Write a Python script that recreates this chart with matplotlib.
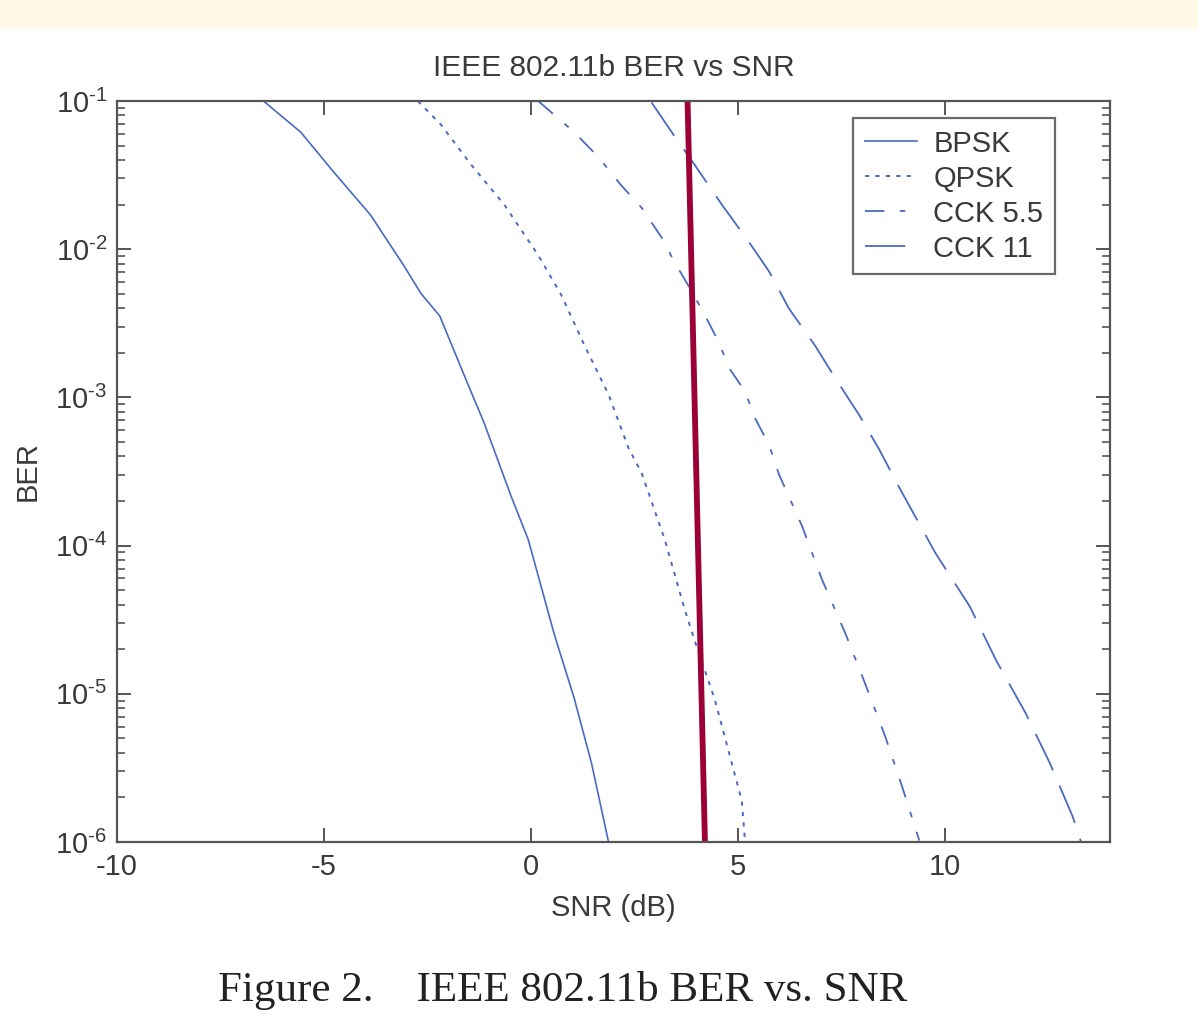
import matplotlib
matplotlib.use("Agg")
import matplotlib.pyplot as plt
from matplotlib.patches import Rectangle
from matplotlib.ticker import FuncFormatter
import numpy as np

plt.rcParams['font.family'] = ['Liberation Sans', 'DejaVu Sans']
plt.rcParams['mathtext.fontset'] = 'custom'
plt.rcParams['mathtext.rm'] = 'Liberation Sans'
plt.rcParams['mathtext.default'] = 'regular'
plt.rcParams['lines.scale_dashes'] = False

# ---- data (SNR in dB, log10 BER) ----
bpsk_snr = [-6.46, -5.56, -4.76, -3.87, -3.07, -2.65, -2.20, -1.61, -1.13, -0.47, -0.06, 0.57, 1.05, 1.47, 1.88]
bpsk_log = [-1.0, -1.21, -1.48, -1.77, -2.11, -2.30, -2.45, -2.85, -3.17, -3.67, -3.96, -4.60, -5.03, -5.47, -6.0]

qpsk_snr = [-2.73, -2.17, -1.44, -0.64, 0.18, 0.74, 1.30, 1.88, 2.36, 2.68, 3.24, 3.72, 3.96, 4.45, 4.86, 5.10, 5.18]
qpsk_log = [-1.0, -1.16, -1.43, -1.70, -2.04, -2.31, -2.65, -2.98, -3.34, -3.51, -3.96, -4.43, -4.64, -5.04, -5.47, -5.72, -6.0]

cck55_snr = [0.18, 1.05, 1.64, 2.19, 2.68, 3.16, 3.48, 3.84, 4.18, 4.55, 4.79, 5.18, 5.42, 5.76, 6.0,
             6.56, 7.04, 7.60, 8.08, 8.57, 8.98, 9.39]
cck55_log = [-1.0, -1.21, -1.38, -1.57, -1.72, -1.92, -2.09, -2.26, -2.43, -2.63, -2.80, -2.96, -3.14, -3.32, -3.52,
             -3.87, -4.23, -4.59, -4.93, -5.29, -5.63, -5.99]

cck11_snr = [2.92, 3.48, 3.96, 4.62, 5.27, 5.76, 6.24, 6.87, 7.36, 7.94, 8.42, 8.91, 9.78, 10.61, 11.24, 11.96, 12.55, 13.10, 13.30]
cck11_log = [-1.01, -1.24, -1.43, -1.70, -1.95, -2.15, -2.40, -2.65, -2.87, -3.12, -3.35, -3.61, -4.05, -4.41, -4.77, -5.13, -5.47, -5.83, -6.0]

marker_snr = [3.79, 4.21]
marker_ber = [1e-1, 1e-6]

labels = ['BPSK', 'QPSK', 'CCK 5.5', 'CCK 11']
x_ticks = [-10, -5, 0, 5, 10]

blue = '#4a69c2'
txt = '#3a3a3a'
fs = 21

fig = plt.figure(figsize=(11.98, 10.33), dpi=100)
fig.patch.set_facecolor('white')
fig.patches.append(Rectangle((0, 1 - 28 / 1033), 1, 28 / 1033, transform=fig.transFigure,
                             facecolor='#fff8e6', edgecolor='none', zorder=0))

ax = fig.add_axes([117 / 1198, 1 - 842 / 1033, (1110 - 117) / 1198, (842 - 101) / 1033])

ax.semilogy(bpsk_snr, 10 ** np.array(bpsk_log), color=blue, lw=1.2, label=labels[0])
ax.semilogy(qpsk_snr, 10 ** np.array(qpsk_log), color=blue, lw=1.4, dashes=(3, 4.5), label=labels[1])
ax.semilogy(cck55_snr, 10 ** np.array(cck55_log), color=blue, lw=1.3, dashes=(14, 11, 4, 11), label=labels[2])
ax.semilogy(cck11_snr, 10 ** np.array(cck11_log), color=blue, lw=1.3, dashes=(29, 12), label=labels[3])
ax.plot(marker_snr, marker_ber, color='#9b0036', lw=4.2, solid_capstyle='butt')

ax.set_xlim(-10, 14)
ax.set_ylim(1e-6, 1e-1)
ax.set_xticks(x_ticks)
ax.set_xticklabels([str(v) for v in x_ticks])
ax.yaxis.set_major_formatter(FuncFormatter(
    lambda v, p: r'$10^{\text{-}%d}$' % int(round(-np.log10(v)))))

for s in ax.spines.values():
    s.set_color('#555555')
    s.set_linewidth(1.6)

ax.tick_params(which='both', direction='in', top=True, right=True, colors='#555555',
               labelcolor=txt, labelsize=fs)
ax.tick_params(which='major', length=10, width=1.4)
ax.tick_params(which='minor', length=6, width=1.2)
ax.tick_params(axis='x', which='major', pad=8)
ax.tick_params(axis='y', which='major', pad=7)

ax.set_title('IEEE 802.11b BER vs SNR', fontsize=fs + 0.5, color=txt, pad=18)
ax.set_xlabel('SNR (dB)', fontsize=fs, color=txt, labelpad=9)
ax.set_ylabel('BER', fontsize=fs, color=txt, labelpad=10)

leg = ax.legend(loc='upper right', bbox_to_anchor=((1055 - 117) / 993, 1 - (118 - 101) / 741),
                borderaxespad=0, fontsize=fs, frameon=True, fancybox=False, handlelength=1.8,
                labelspacing=0.24, borderpad=0.4, handletextpad=0.55)
leg.get_frame().set_edgecolor('#444444')
leg.get_frame().set_linewidth(1.6)
for t in leg.get_texts():
    t.set_color(txt)

fig.text(563 / 1198, 1 - 990 / 1033, 'Figure 2.    IEEE 802.11b BER vs. SNR', ha='center', va='center',
         fontsize=31, family=['Liberation Serif', 'DejaVu Serif'], color='#222222')

fig.savefig('out.png', dpi=100, facecolor='white')
